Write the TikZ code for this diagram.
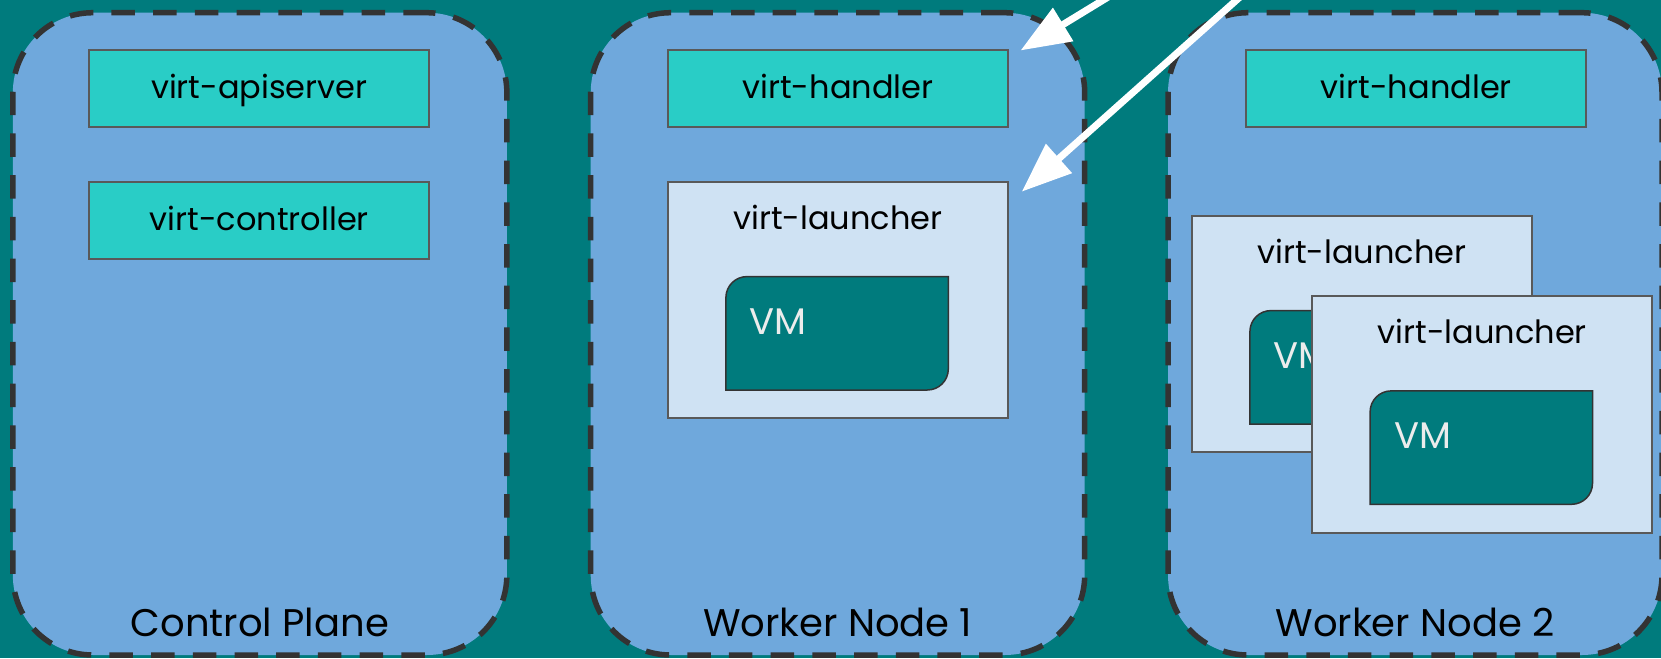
\documentclass[tikz,border=0pt]{standalone}
\usepackage{fontspec}
\setmainfont{Poppins}
\usetikzlibrary{arrows.meta,calc}

\definecolor{sea}{RGB}{0,123,125}
\definecolor{nodeblue}{RGB}{111,168,220}
\definecolor{podgreen}{RGB}{41,205,198}
\definecolor{paleblue}{RGB}{207,226,243}
\definecolor{edgegray}{RGB}{89,89,89}
\definecolor{dashgray}{RGB}{51,51,51}
\definecolor{vmwhite}{RGB}{236,236,236}

% outline of a VM: rounded top-left and bottom-right corners only
\newcommand\vmoutline[1]{%
  \draw[vmshape] (#1.south west) -- ($(#1.north west)+(0,21)$)
    .. controls ($(#1.north west)+(0,9.4)$) and ($(#1.north west)+(9.4,0)$) .. ($(#1.north west)+(21,0)$)
    -- (#1.north east) -- ($(#1.south east)+(0,-21)$)
    .. controls ($(#1.south east)+(0,-9.4)$) and ($(#1.south east)+(-9.4,0)$) .. ($(#1.south east)+(-21,0)$)
    -- cycle;}

\tikzset{
  hostbox/.style={draw=dashgray, line width=5.5pt, dash pattern=on 23.5pt off 18.2pt,
    fill=nodeblue, rounded corners=80pt, minimum width=494pt, minimum height=642.3pt, inner sep=0pt},
  podbox/.style={draw=edgegray, line width=1.8pt, fill=podgreen, minimum width=340pt,
    minimum height=77.3pt, inner sep=0pt, text height=24pt, text depth=4pt,
    font=\fontsize{32}{38}\selectfont},
  launchbox/.style={draw=edgegray, line width=1.8pt, fill=paleblue, minimum width=340pt,
    minimum height=236.6pt, inner sep=0pt},
  launchtext/.style={anchor=base, inner sep=0pt, font=\fontsize{32}{38}\selectfont},
  vmbox/.style={minimum width=222pt, minimum height=113pt, inner sep=0pt},
  vmshape/.style={draw=dashgray, line width=1.5pt, fill=sea},
  vmtext/.style={anchor=base west, inner sep=0pt, text=vmwhite, font=\fontsize{37}{44}\selectfont},
  hosttext/.style={anchor=base, inner sep=0pt, font=\fontsize{38.5}{46}\selectfont},
  flow/.style={draw=white, line width=7pt, -{Triangle[length=50pt,width=37.5pt]}},
}

\begin{document}
\begin{tikzpicture}[x=1pt, y=-1pt]
  \useasboundingbox (0,0) rectangle (1661,658);
  \clip (0,0) rectangle (1661,658);
  \fill[sea] (0,0) rectangle (1661,658);

  % hosts
  \node[hostbox] (cp)  at (259.85,333.85) {};
  \node[hostbox] (wn1) at (837.7,333.85) {};
  \node[hostbox] (wn2) at (1415,333.85) {};

  \node[hosttext] (cplabel)  at ($(cp.south)+(0,-21.7)$)  {Control Plane};
  \node[hosttext] (wn1label) at ($(wn1.south)+(0,-21.7)$) {Worker Node 1};
  \node[hosttext] (wn2label) at ($(wn2.south)+(0,-21.7)$) {Worker Node 2};

  % control plane components
  \node[podbox] (api)  at (259.3,88.65)  {virt-apiserver};
  \node[podbox] (ctrl) at (259.3,220.35) {virt-controller};

  % worker node 1
  \node[podbox] (h1) at (838,88.65) {virt-handler};
  \node[launchbox] (l1) at (838,300) {};
  \node[launchtext] (l1text) at ($(l1.north)+(0,48.3)$) {virt-launcher};
  \node[vmbox] (vm1) at ($(l1.north west)+(170,152.5)$) {};
  \vmoutline{vm1}
  \node[vmtext] (vm1text) at ($(vm1.north west)+(23.7,57.7)$) {VM};

  % worker node 2
  \node[podbox] (h2) at (1416.3,88.65) {virt-handler};
  \node[launchbox] (l2) at (1362,334) {};
  \node[launchtext] (l2text) at ($(l2.north)+(0,48.3)$) {virt-launcher};
  \node[vmbox] (vm2) at ($(l2.north west)+(170,152.5)$) {};
  \vmoutline{vm2}
  \node[vmtext] (vm2text) at ($(vm2.north west)+(23.7,57.7)$) {VM};

  \node[launchbox] (l3) at (1482.2,414.3) {};
  \node[launchtext] (l3text) at ($(l3.north)+(0,48.3)$) {virt-launcher};
  \node[vmbox] (vm3) at ($(l3.north west)+(170,152.5)$) {};
  \vmoutline{vm3}
  \node[vmtext] (vm3text) at ($(vm3.north west)+(23.7,57.7)$) {VM};

  % incoming arrows
  \coordinate (src1) at (1136,-20);
  \coordinate (dst1) at (1020.5,50.5);
  \coordinate (src2) at (1259,-20);
  \coordinate (dst2) at (1021.7,191.7);
  \draw[flow] (src1) -- (dst1);
  \draw[flow] (src2) -- (dst2);
\end{tikzpicture}
\end{document}
